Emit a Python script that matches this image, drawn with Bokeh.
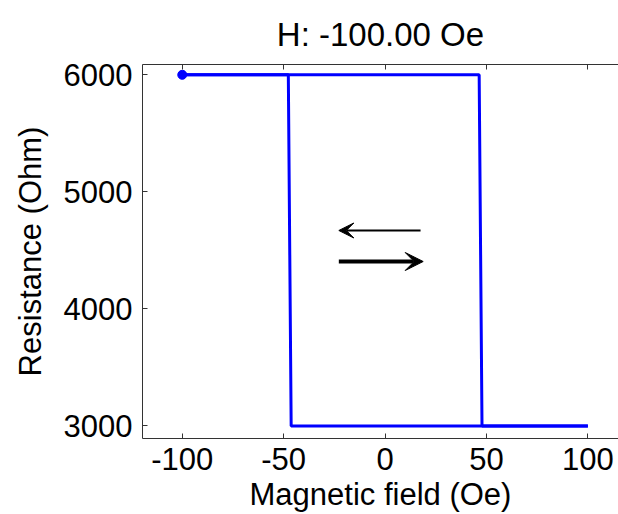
from bokeh.plotting import figure
from bokeh.models import Range1d, LinearAxis, FixedTicker, Arrow, VeeHead
from bokeh.embed import file_html
from bokeh.resources import INLINE

# ---- data ----
forward_field = [-100, 46.4, 47.8, 100]
forward_resistance = [6000, 6000, 3000, 3000]
backward_field = [100, -46.3, -47.7, -100]
backward_resistance = [3000, 3000, 6000, 6000]
current_field = [-100]
current_resistance = [6000]
x_ticks = [-100, -50, 0, 50, 100]
x_tick_labels = ["-100", "-50", "0", "50", "100"]
y_ticks = [3000, 4000, 5000, 6000]
title_text = "H: -100.00 Oe"
x_label = "Magnetic field (Oe)"
y_label = "Resistance (Ohm)"
# sweep-direction arrows (field start, field end, resistance level)
down_arrow = [17.5, -22.8, 4670]
up_arrow = [-22.8, 18.8, 4405]

FONT = "Liberation Sans"
FS = "31px"
AX = "#333333"
BLUE = "#0000ff"

p = figure(width=618, height=514,
           x_range=Range1d(-119.6, 115.1), y_range=Range1d(2893, 6088),
           output_backend="svg", toolbar_location=None,
           min_border_left=142, min_border_right=0,
           min_border_top=64, min_border_bottom=75)
p.outline_line_color = None
p.xgrid.visible = False
p.ygrid.visible = False
p.background_fill_color = "white"
p.border_fill_color = "white"

p.title.text = title_text
p.title.align = "center"
p.title.text_font = FONT
p.title.text_font_size = "33px"
p.title.text_font_style = "normal"
p.title.text_color = "black"
p.title.standoff = 23

for ax in (p.xaxis[0], p.yaxis[0]):
    ax.major_tick_in = 5
    ax.major_tick_out = 0
    ax.minor_tick_in = 0
    ax.minor_tick_out = 0
    ax.axis_line_color = AX
    ax.major_tick_line_color = AX
    ax.major_label_text_font = FONT
    ax.major_label_text_font_size = FS
    ax.major_label_text_color = "black"
    ax.axis_label_text_font = FONT
    ax.axis_label_text_font_size = FS
    ax.axis_label_text_font_style = "normal"
    ax.axis_label_text_color = "black"

p.xaxis[0].ticker = FixedTicker(ticks=x_ticks)
p.xaxis[0].major_label_overrides = dict(zip(x_ticks, x_tick_labels))
p.xaxis[0].major_label_standoff = 9
p.xaxis[0].axis_label = x_label
p.xaxis[0].axis_label_standoff = 4
p.yaxis[0].ticker = FixedTicker(ticks=y_ticks)
p.yaxis[0].major_label_standoff = 10
p.yaxis[0].axis_label = y_label
p.yaxis[0].axis_label_standoff = 13

top = LinearAxis(ticker=FixedTicker(ticks=x_ticks), major_tick_in=5, major_tick_out=0,
                 minor_tick_in=0, minor_tick_out=0, major_label_text_color=None,
                 major_label_text_font_size="1px", major_label_standoff=0,
                 axis_line_color=AX, major_tick_line_color=AX)
p.add_layout(top, "above")

p.line(forward_field, forward_resistance, line_color=BLUE, line_width=3)
p.line(backward_field, backward_resistance, line_color=BLUE, line_width=3)
p.scatter(current_field, current_resistance, size=9, color=BLUE)

p.add_layout(Arrow(end=VeeHead(size=15, fill_color="black", line_color="black"),
                   x_start=down_arrow[0], x_end=down_arrow[1],
                   y_start=down_arrow[2], y_end=down_arrow[2],
                   line_width=2, line_color="black"))
p.add_layout(Arrow(end=VeeHead(size=18, fill_color="black", line_color="black"),
                   x_start=up_arrow[0], x_end=up_arrow[1],
                   y_start=up_arrow[2], y_end=up_arrow[2],
                   line_width=4, line_color="black"))

open("out.html", "w").write(file_html(p, INLINE))
